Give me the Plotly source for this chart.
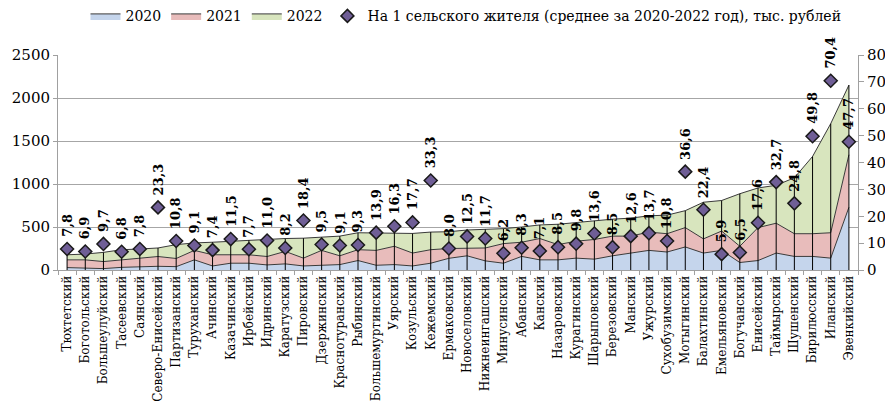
import plotly.graph_objects as go

districts = ["Тюхтетский", "Боготольский", "Большеулуйский", "Тасеевский", "Саянский",
             "Северо-Енисейский", "Партизанский", "Туруханский", "Ачинский", "Казачинский",
             "Ирбейский", "Идринский", "Каратузский", "Пировский", "Дзержинский",
             "Краснотуранский", "Рыбинский", "Большемуртинский", "Уярский", "Козульский",
             "Кежемский", "Ермаковский", "Новоселовский", "Нижнеингашский", "Минусинский",
             "Абанский", "Канский", "Назаровский", "Курагинский", "Шарыповский",
             "Березовский", "Манский", "Ужурский", "Сухобузимский", "Мотыгинский",
             "Балахтинский", "Емельяновский", "Богучанский", "Енисейский", "Таймырский",
             "Шушенский", "Бирилюсский", "Иланский", "Эвенкийский"]

v2020 = [28, 24, 16, 31, 39, 43, 39, 118, 47, 79, 79, 59, 71, 47, 55, 63, 110, 55, 63, 47,
         79, 136, 165, 106, 79, 158, 118, 118, 138, 126, 165, 197, 228, 209, 268, 197, 228,
         87, 110, 197, 158, 158, 138, 729]
v2021 = [90, 94, 82, 87, 99, 114, 95, 110, 130, 98, 98, 98, 145, 91, 173, 102, 126, 173,
         213, 150, 157, 114, 91, 150, 228, 165, 248, 177, 197, 229, 229, 197, 213, 213, 225,
         165, 225, 189, 383, 347, 264, 264, 295, 611]
v2022 = [59, 67, 107, 118, 106, 99, 161, 87, 146, 158, 169, 205, 150, 232, 150, 229, 197,
         205, 157, 228, 205, 195, 209, 217, 174, 177, 158, 237, 217, 216, 197, 209, 189, 216,
         197, 426, 355, 611, 461, 441, 650, 898, 1269, 810]
per_resident = [7.8, 6.9, 9.7, 6.8, 7.8, 23.3, 10.8, 9.1, 7.4, 11.5, 7.7, 11.0, 8.2, 18.4,
                9.5, 9.1, 9.3, 13.9, 16.3, 17.7, 33.3, 8.0, 12.5, 11.7, 6.2, 8.3, 7.1, 8.5,
                9.8, 13.6, 8.5, 12.6, 13.7, 10.8, 36.6, 22.4, 5.9, 6.5, 17.6, 32.7, 24.8,
                49.8, 70.4, 47.7]

totals = [a + b + c for a, b, c in zip(v2020, v2021, v2022)]

FONT = "DejaVu Serif"
edge = "#3A3A3A"

fig = go.Figure()
for name, vals, col in [("2020", v2020, "#C5D5EC"), ("2021", v2021, "#E8BCBB"),
                        ("2022", v2022, "#D8E5BE")]:
    fig.add_trace(go.Scatter(x=districts, y=vals, name=name, stackgroup="one",
                             mode="lines", line=dict(color=edge, width=1),
                             fillcolor=col))

# drop lines from the top of the stack down to the category axis
drop_x, drop_y = [], []
for d, t in zip(districts, totals):
    drop_x += [d, d, None]
    drop_y += [0, t, None]
fig.add_trace(go.Scatter(x=drop_x, y=drop_y, mode="lines", showlegend=False,
                         hoverinfo="skip", line=dict(color="#000000", width=1)))

fig.add_trace(go.Scatter(x=districts, y=per_resident, yaxis="y2", mode="markers",
                         name="На 1 сельского жителя (среднее за 2020-2022 год), тыс. рублей",
                         marker=dict(symbol="diamond", size=10, color="#6F5E96",
                                     line=dict(color="#1A1A1A", width=1.5))))

annotations = []
for d, v in zip(districts, per_resident):
    annotations.append(dict(x=d, y=v, xref="x", yref="y2",
                            text="<b>" + f"{v:.1f}".replace(".", ",") + "</b>",
                            showarrow=False,
                            textangle=-90, yanchor="bottom", xanchor="center", yshift=10,
                            font=dict(family=FONT, size=13, color="#000000")))

# page body adds an 8px offset, so the figure is sized to fill the rest of the window
fig.update_layout(
    width=885, height=395,
    margin=dict(l=50, r=35, t=47, b=133, autoexpand=False),
    paper_bgcolor="white", plot_bgcolor="white",
    font=dict(family=FONT, size=14, color="#000000"),
    showlegend=True,
    legend=dict(orientation="h", x=0.51, xanchor="center", y=1.18, yanchor="middle",
                font=dict(family=FONT, size=14, color="#000000"), itemwidth=30,
                tracegroupgap=0, traceorder="normal"),
    annotations=annotations,
    xaxis=dict(type="category", range=[-0.5, len(districts) - 0.5], tickangle=-90,
               tickfont=dict(family=FONT, size=12), showgrid=False,
               showline=True, linecolor="#A0A0A0", linewidth=1,
               ticks="outside", ticklen=4, tickcolor="#A0A0A0", tickson="boundaries"),
    yaxis=dict(range=[0, 2500], dtick=500, showgrid=True, gridcolor="#A6A6A6",
               gridwidth=1, showline=True, linecolor="#A0A0A0", zeroline=False,
               ticks="outside", ticklen=4, tickcolor="#A0A0A0",
               tickfont=dict(family=FONT, size=15)),
    yaxis2=dict(range=[0, 80], dtick=10, overlaying="y", side="right", showgrid=False,
                showline=True, linecolor="#A0A0A0", zeroline=False,
                ticks="outside", ticklen=5, tickcolor="#A0A0A0",
                tickfont=dict(family=FONT, size=15)),
)

fig.write_html("out.html")
